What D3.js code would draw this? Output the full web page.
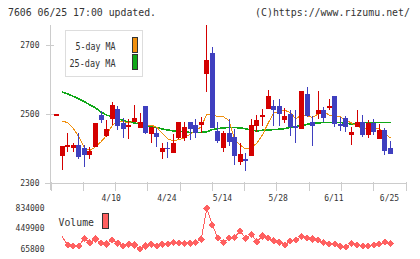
<!DOCTYPE html>
<html>
<head>
<meta charset="utf-8">
<script src="https://cdn.jsdelivr.net/npm/d3@7/dist/d3.min.js"></script>
<style>
body { margin: 0; background: #fff; }
text { font-family: "DejaVu Sans Mono", monospace; fill: #333; }
</style>
</head>
<body>
<div id="chart_box"></div>
<script>

// trading days, 0 .. 60 (last one is 6/25)
var days = d3.range(61);

var open  = [2493,2379,2405,2402,2411,2402,2382,2405,2497,2437,2486,2515,2474,2463,2477,2460,2523,2442,2445,2390,
             2403,2387,2430,2432,2477,2468,2468,2616,2677,2451,2403,2445,2435,2362,2369,2379,2466,2494,2515,2523,
             2523,2483,2500,2466,2457,2558,2477,2500,2512,2518,2552,2471,2489,2440,2463,2477,2440,2474,2428,2454,2402];
var high  = [2499,2408,2445,2416,2445,2411,2405,2474,2509,2483,2535,2523,2489,2486,2526,2503,2523,2463,2460,2416,
             2420,2442,2477,2477,2477,2486,2490,2757,2694,2477,2451,2486,2457,2417,2388,2486,2497,2515,2570,2541,
             2544,2518,2512,2512,2567,2578,2494,2567,2520,2544,2552,2492,2494,2463,2512,2497,2483,2486,2471,2460,2422];
var low   = [2493,2338,2390,2390,2370,2347,2370,2405,2474,2434,2468,2454,2431,2428,2477,2460,2442,2416,2405,2370,
             2372,2387,2428,2423,2425,2430,2444,2565,2461,2417,2391,2409,2353,2353,2336,2379,2449,2466,2515,2466,
             2466,2474,2437,2416,2457,2492,2408,2486,2477,2512,2463,2451,2448,2411,2463,2434,2431,2440,2428,2382,2385];
var close = [2499,2408,2411,2411,2376,2382,2393,2474,2483,2457,2526,2466,2457,2468,2489,2477,2445,2463,2434,2402,
             2398,2417,2477,2463,2456,2444,2477,2656,2461,2423,2445,2420,2379,2385,2365,2468,2483,2497,2552,2512,
             2500,2494,2463,2460,2567,2494,2466,2512,2489,2523,2471,2466,2463,2448,2477,2440,2474,2448,2454,2393,2385];

var ma5  = [null,2480,2475,2459,2435,2402,2395,2405,2420,2438,2467,2481,2478,2475,2481,2471,2467,2468,2462,2444,
            2428,2423,2426,2431,2442,2451,2463,2499,2499,2492,2492,2481,2426,2410,2399,2403,2416,2440,2473,2502,
            2509,2511,2504,2486,2497,2496,2490,2500,2506,2497,2492,2492,2482,2474,2465,2459,2460,2457,2459,2442,2431];
var ma25 = [null,2564,2558,2551,2544,2536,2526,2518,2506,2497,2492,2487,2481,2477,2474,2471,2468,2464,2461,2457,
            2454,2451,2450,2448,2447,2446,2447,2449,2455,2458,2460,2461,2461,2460,2457,2454,2451,2453,2454,2455,
            2456,2458,2461,2464,2466,2470,2473,2474,2476,2476,2476,2476,2473,2471,2473,2474,2476,2476,2476,2476,2476];

var volume = [null,298000,141000,122000,122000,268000,185000,254000,173000,160000,236000,173000,122000,154000,141000,65800,122000,154000,122000,154000,
              160000,185000,173000,173000,173000,192000,249000,834000,519000,268000,192000,268000,286000,405000,268000,343000,204000,311000,279000,217000,
              192000,141000,217000,236000,298000,268000,254000,236000,192000,160000,160000,122000,109000,173000,141000,122000,122000,141000,160000,192000,173000];

var priceTicks = [2300, 2500, 2700];
var volTicks = [65800, 449900, 834000];
var dateTickDay = [10, 20, 30, 40, 50, 60];
var dateTickLabel = ["4/10", "4/24", "5/14", "5/28", "6/11", "6/25"];

var colUp = "#d40000", colDown = "#3f3fbf", colMa5 = "#f0900f", colMa25 = "#10a818", colVol = "#ff6060", colAxis = "#cccccc";

var svg = d3.select("#chart_box").append("svg")
    .attr("width", 420)
    .attr("height", 259)
    .attr("shape-rendering", "crispEdges");

var x  = d3.scalePoint().domain(days).range([56.5, 390.5]);
var y  = d3.scaleLinear().domain([2300, 2757]).range([183.3, 25]);
var yv = d3.scaleLinear().domain([65800, 834000]).range([249, 208.3]);
var xg = d3.scaleLinear().domain([0, 11]).range([50.5, 405.5]);   // weekly grid ticks

// header
svg.append("text").text("7606 06/25 17:00 updated.")
    .attr("x", 8).attr("y", 16).attr("font-size", 10).attr("textLength", 148).attr("lengthAdjust", "spacingAndGlyphs");
svg.append("text").text("(C)https://www.rizumu.net/")
    .attr("x", 255).attr("y", 16).attr("font-size", 10).attr("textLength", 155).attr("lengthAdjust", "spacingAndGlyphs");

// axes
var gx = svg.append("g").attr("transform", "translate(0,183.5)")
    .call(d3.axisBottom(xg).ticks(11).tickSize(7).tickSizeOuter(0).tickFormat(""));
gx.select(".domain").remove();
gx.selectAll(".tick line").attr("y1", -2).attr("stroke", colAxis);

svg.append("line").attr("x1", 45).attr("x2", 406).attr("y1", 183.5).attr("y2", 183.5).attr("stroke", colAxis);
svg.append("line").attr("x1", 50.5).attr("x2", 50.5).attr("y1", 25).attr("y2", 190).attr("stroke", colAxis);

var gy = svg.append("g").attr("transform", "translate(50.5,0)")
    .call(d3.axisLeft(y).tickValues(priceTicks).tickSize(5).tickPadding(6).tickFormat(d3.format("d")));
gy.select(".domain").remove();
gy.selectAll(".tick line").attr("x1", 3).attr("stroke", colAxis);
gy.selectAll(".tick text").attr("font-family", "DejaVu Sans Mono").attr("font-size", 8).attr("fill", "#333");

svg.selectAll(".date_lbl").data(dateTickDay).enter().append("text")
    .attr("class", "date_lbl")
    .attr("x", function(d) { return x(d) - 1; })
    .attr("y", 198)
    .attr("dy", "0.35em")
    .attr("text-anchor", "middle")
    .attr("font-size", 8)
    .text(function(d, i) { return dateTickLabel[i]; });

svg.selectAll(".vol_lbl").data(volTicks).enter().append("text")
    .attr("class", "vol_lbl")
    .attr("x", 44.5)
    .attr("y", function(d) { return yv(d); })
    .attr("dy", "0.35em")
    .attr("text-anchor", "end")
    .attr("font-size", 8)
    .text(function(d) { return d; });

// moving averages
var maLine = function(arr) {
    return d3.line()
        .defined(function(d) { return arr[d] != null; })
        .x(function(d) { return x(d); })
        .y(function(d) { return y(arr[d]); });
};
svg.append("path").datum(days).attr("d", maLine(ma25)).attr("fill", "none").attr("stroke", colMa25).attr("stroke-width", 1.6);
svg.append("path").datum(days).attr("d", maLine(ma5)).attr("fill", "none").attr("stroke", colMa5).attr("stroke-width", 1);

// candles
var candle = svg.append("g").selectAll("g").data(days).enter().append("g");
candle.append("line")
    .attr("x1", function(d) { return x(d); })
    .attr("x2", function(d) { return x(d); })
    .attr("y1", function(d) { return y(high[d]); })
    .attr("y2", function(d) { return y(low[d]); })
    .attr("stroke", function(d) { return close[d] >= open[d] ? colUp : colDown; });
candle.append("rect")
    .attr("x", function(d) { return x(d) - 2.5; })
    .attr("width", 5)
    .attr("y", function(d) { return y(Math.max(open[d], close[d])); })
    .attr("height", function(d) { return Math.max(1.5, Math.abs(y(open[d]) - y(close[d]))); })
    .attr("fill", function(d) { return close[d] >= open[d] ? colUp : colDown; });

// legend price
svg.append("rect").attr("x", 65.5).attr("y", 30.5).attr("width", 77).attr("height", 46)
    .attr("fill", "#fff").attr("stroke", "#dddddd").attr("stroke-width", 1.5);
svg.append("text").text("5-day MA").attr("x", 115.5).attr("y", 49.5).attr("text-anchor", "end")
    .attr("font-size", 10.5).attr("textLength", 40).attr("lengthAdjust", "spacingAndGlyphs");
svg.append("text").text("25-day MA").attr("x", 115.5).attr("y", 66.5).attr("text-anchor", "end")
    .attr("font-size", 10.5).attr("textLength", 46).attr("lengthAdjust", "spacingAndGlyphs");
svg.append("rect").attr("x", 132).attr("y", 37.5).attr("width", 5).attr("height", 15)
    .attr("fill", colMa5).attr("stroke", "#333");
svg.append("rect").attr("x", 132).attr("y", 54.5).attr("width", 5).attr("height", 15)
    .attr("fill", colMa25).attr("stroke", "#333");

// volume
var volDays = days.filter(function(d) { return volume[d] != null; });
svg.append("path").datum(volDays)
    .attr("d", d3.line().x(function(d) { return x(d); }).y(function(d) { return yv(volume[d]); }))
    .attr("fill", "none").attr("stroke", colVol).attr("stroke-width", 1);
svg.append("g").selectAll("path").data(volDays.slice(1)).enter().append("path")
    .attr("d", d3.symbol(d3.symbolSquare, 26))
    .attr("transform", function(d) { return "translate(" + x(d) + "," + yv(volume[d]) + ") rotate(45)"; })
    .attr("fill", colVol);

svg.append("text").text("Volume").attr("x", 58.5).attr("y", 225.5)
    .attr("font-size", 10.5).attr("textLength", 35.5).attr("lengthAdjust", "spacingAndGlyphs");
svg.append("rect").attr("x", 102).attr("y", 213.5).attr("width", 6).attr("height", 15)
    .attr("fill", colVol).attr("stroke", "#333");

</script>
</body>
</html>
